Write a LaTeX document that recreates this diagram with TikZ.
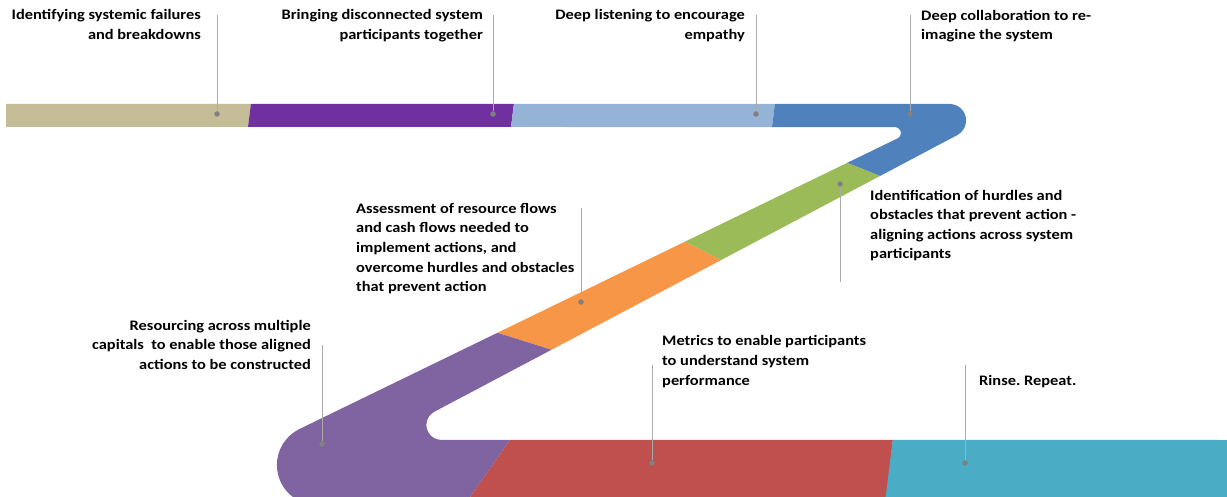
\documentclass[tikz,border=0pt]{standalone}
\usepackage{fontspec}
\setmainfont{Carlito}[FakeStretch=1.13]
\frenchspacing
\usepackage{tikz}
\usetikzlibrary{positioning}
\definecolor{sand}{HTML}{C4BD97}
\definecolor{violett}{HTML}{7030A0}
\definecolor{hellblau}{HTML}{95B3D7}
\definecolor{blau}{HTML}{4F81BD}
\definecolor{gruen}{HTML}{9BBB59}
\definecolor{orangeton}{HTML}{F79646}
\definecolor{lila}{HTML}{8064A2}
\definecolor{rot}{HTML}{C0504D}
\definecolor{tuerkis}{HTML}{4BACC6}

\begin{document}
\begin{tikzpicture}[x=1pt,y=-1pt,
  leiter/.style={draw=black!33,line width=0.9pt},
  punkt/.style={circle,fill=black!50,inner sep=0pt,minimum size=5.5pt},
  beschr/.style={font=\bfseries\fontsize{14.5}{19.6}\selectfont,inner sep=0pt,execute at begin node=\strut}]
\useasboundingbox (0,0) rectangle (1227,497);
%Z-Band, die Ecken als Kreisboegen (Mittelpunkte vorher ausgerechnet)
\begin{scope}
\clip (6,104) -- (949.6,104) arc[start angle=-90,end angle=62.1,radius=16.5]
  -- (434.4,411.7) arc[start angle=242.1,end angle=90,radius=15]
  -- (1240,440) -- (1240,505) -- (316.9,505) arc[start angle=90,end angle=244.1,radius=40]
  -- (897.5,138.4) arc[start angle=64.1,end angle=-90,radius=6] -- (6,127) -- cycle;
%Abschnitte
\fill[sand] (0,95) -- (252,95) -- (247,135) -- (0,135) -- cycle;
\fill[violett] (252,95) -- (515,95) -- (510,135) -- (247,135) -- cycle;
\fill[hellblau] (515,95) -- (776,95) -- (771,135) -- (510,135) -- cycle;
\fill[blau] (776,95) -- (1050,95) -- (1050,200) -- (920,192) -- (820,152) -- (771,135) -- cycle;
\fill[gruen] (820,152) -- (920,192) -- (780,290) -- (650,224) -- cycle;
\fill[orangeton] (650,224) -- (780,290) -- (600,365) -- (460,321) -- cycle;
\fill[lila] (460,321) -- (600,365) -- (517,430) -- (461,510) -- (100,510) -- (100,300) -- cycle;
\fill[rot] (517,430) -- (461,510) -- (885,510) -- (894,430) -- cycle;
\fill[tuerkis] (894,430) -- (884,510) -- (1240,510) -- (1240,430) -- cycle;
\end{scope}
%Texte (y = erste Grundlinie - 0.7*19.6)
\node[beschr,anchor=north east,align=right] (t1) at (201,9.5) {Identifying systemic failures\\and breakdowns};
\node[beschr,anchor=north east,align=right] (t2) at (483,9.5) {Bringing disconnected system\\participants together};
\node[beschr,anchor=north east,align=right] (t3) at (745,9.5) {Deep listening to encourage\\empathy};
\node[beschr,anchor=north west,align=left] (t4) at (921,9.7) {Deep collaboration to re-\\imagine the system};
\node[beschr,anchor=north west,align=left] (t5) at (870,189.7) {Identification of hurdles and\\obstacles that prevent action -\\aligning actions across system\\participants};
\node[beschr,anchor=north west,align=left] (t6) at (356,203) {Assessment of resource flows\\and cash flows needed to\\implement actions, and\\overcome hurdles and obstacles\\that prevent action};
\node[beschr,anchor=north east,align=right] (t7) at (311,319.7) {Resourcing across multiple\\capitals\ \ to enable those aligned\\actions to be constructed};
\node[beschr,anchor=north west,align=left] (t8) at (662,335.5) {Metrics to enable participants\\to understand system\\performance};
\node[beschr,anchor=north west,align=left] (t9) at (979,371.5) {Rinse. Repeat.};
%Hinweislinien mit Punkt auf dem Band
\foreach \n/\x/\ya/\yb in {1/217/15/114,2/493/15/114,3/756/15/114,4/910/15/114,5/840/282/184,
                          6/581/208/302,7/322/345/444,8/652/365/463,9/965/365/463}{
  \coordinate (e\n) at (\x,\ya);
  \node[punkt] (p\n) at (\x,\yb) {};
  \draw[leiter] (e\n) -- (p\n);
}
\end{tikzpicture}
\end{document}
